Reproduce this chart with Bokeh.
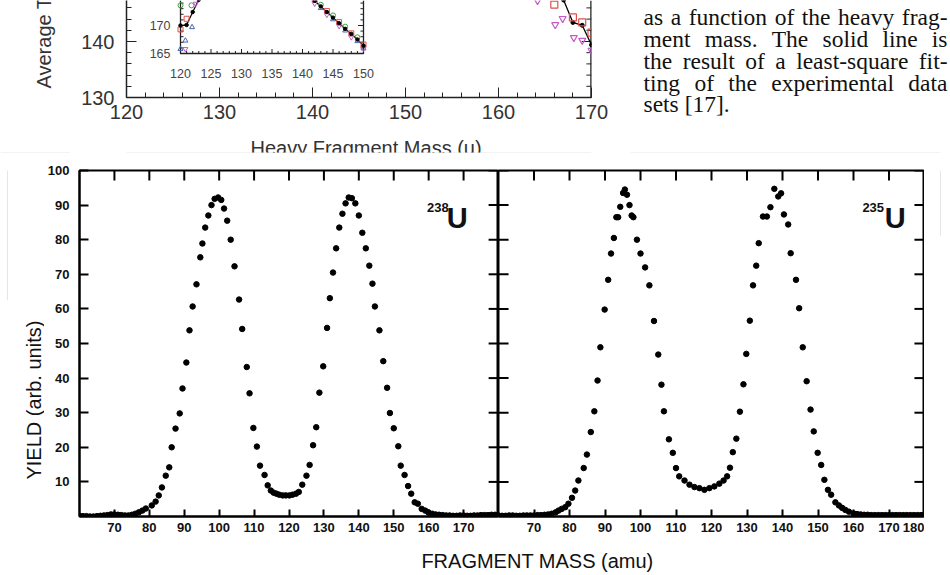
from bokeh.plotting import figure
from bokeh.models import Range1d, LinearAxis, FixedTicker, SingleIntervalTicker
from bokeh.layouts import row, column
from bokeh.core.properties import value
from bokeh.embed import file_html
from bokeh.resources import INLINE
from math import pi

# ------------------------------------------------------------------
# Fission fragment mass yields (arb. units)
# ------------------------------------------------------------------
U238_MASS = [60, 61, 62, 63, 64, 65, 66, 67, 68, 69, 70, 71, 72, 73, 74, 75, 76, 77, 78, 79,
             80.7, 81.8, 82.7, 83.6, 84.7, 85.7, 86.4, 87.5, 88.7, 89.5, 90.6, 91.5, 92.4,
             93.5, 94.6, 95.2, 96.0, 96.9, 97.8, 98.7, 99.7, 100.6, 101.4, 102.3, 103.3,
             104.4, 105.7, 106.6, 107.9, 108.7, 109.8, 110.8, 111.7, 113.0, 113.9, 114.8,
             115.6, 116.4, 117.2, 118.2, 119.1, 120.1, 121.0, 122.0, 122.8, 123.8, 125.0,
             125.9, 126.9, 127.8, 128.7, 129.8, 130.9, 131.7, 132.6, 133.5, 134.4, 135.3,
             136.2, 137.1, 138.0, 139.0, 140.0, 141.0, 142.0, 143.0, 143.9, 144.6, 145.9,
             147.0, 148.1, 148.9, 150.0, 151.3, 152.0, 153.1, 154.1, 155.0, 156.0, 156.9,
             158.0, 159.0, 159.9, 161, 162, 163, 164, 165, 166, 167, 168, 169, 170, 171,
             172, 173, 174, 175, 176, 177, 178, 179, 180]
U238_YIELD = [0.2, 0.1, 0.1, 0.0, 0.0, 0.1, 0.2, 0.3, 0.4, 0.6, 0.6, 0.5, 0.4, 0.3, 0.3, 0.5,
              0.8, 1.2, 1.7, 2.3,
              3.2, 4.3, 6.1, 8.4, 11.8, 14.2, 20.0, 25.4, 29.8, 37.0, 44.5, 53.8, 60.7,
              67.1, 74.9, 78.9, 83.5, 87.0, 90.0, 91.8, 92.2, 91.5, 89.0, 85.5, 80.0,
              72.3, 62.7, 54.2, 43.2, 35.6, 25.6, 20.2, 14.7, 12.0, 9.0, 7.5,
              6.9, 6.6, 6.3, 6.1, 6.1, 6.1, 6.3, 6.6, 7.1, 9.2, 11.8,
              14.9, 20.6, 25.8, 35.8, 43.4, 54.5, 63.1, 70.5, 77.5, 83.5, 87.5,
              90.5, 92.2, 92.0, 90.5, 87.0, 82.0, 77.5, 72.5, 67.3, 60.7, 53.8,
              44.9, 37.2, 29.9, 25.5, 20.3, 14.7, 12.0, 8.8, 6.6, 4.1, 3.7,
              2.2, 1.7, 1.2, 0.8, 0.6, 0.5, 0.4, 0.3, 0.3, 0.2, 0.2, 0.3, 0.3, 0.2,
              0.2, 0.3, 0.3, 0.4, 0.4, 0.4, 0.5, 0.5, 0.5]

U235_MASS = [60, 61, 62, 63, 64, 65, 66, 67, 68, 69, 70, 71, 72, 73, 74, 75,
             76.1, 76.9, 77.8, 78.8, 79.7, 80.7, 81.6, 82.5, 84.0, 84.9, 86.0, 87.0, 87.9,
             88.7, 89.9, 90.9, 91.7, 92.5, 93.2, 93.7, 94.3, 95.1, 95.6, 96.2, 96.9, 97.5,
             98.0, 99.0, 100.0, 101.3, 102.5, 103.8, 105.0, 105.9, 106.6, 108.0, 109.1,
             110.0, 110.9, 112.4, 113.8, 115.2, 116.6, 118.0, 119.4, 120.8, 122.2, 123.4,
             124.4, 125.2, 126.0, 127.0, 128.0, 129.0, 129.8, 130.8, 131.7, 132.6, 133.3,
             134.5, 135.6, 136.6, 137.7, 138.8, 139.6, 140.4, 141.6, 142.3, 143.8, 144.7,
             145.7, 146.8, 147.9, 148.8, 149.9, 150.9, 151.8, 152.8, 153.7, 154.9, 155.9,
             156.8, 157.7, 158.7, 160, 161, 162, 163, 164, 165, 166, 167, 168, 169, 170,
             171, 172, 173, 174, 175, 176, 177, 178, 179, 180]
U235_YIELD = [0.3, 0.2, 0.2, 0.3, 0.3, 0.2, 0.2, 0.3, 0.3, 0.3, 0.3, 0.4, 0.4, 0.5, 0.6, 0.8,
              1.2, 1.7, 2.2, 2.7, 3.7, 5.4, 7.5, 10.4, 14.0, 17.9, 24.4, 30.4, 39.3,
              48.9, 59.8, 68.4, 76.0, 80.5, 86.5, 86.5, 89.5, 93.5, 94.5, 93.0, 90.0, 87.0,
              86.5, 80.0, 76.0, 72.0, 66.8, 56.5, 46.8, 38.1, 30.4, 22.3, 18.4,
              14.0, 11.6, 10.4, 9.2, 8.5, 8.2, 7.7, 8.2, 8.7, 9.5, 10.4,
              11.6, 14.1, 18.6, 22.5, 30.3, 38.2, 47.0, 56.6, 66.8, 72.5, 79.0,
              86.7, 86.7, 89.4, 94.7, 92.5, 93.4, 87.3, 84.4, 76.1, 68.4, 60.2,
              48.9, 39.1, 30.9, 24.6, 18.4, 14.9, 10.6, 7.7, 6.3, 4.1, 3.2,
              2.5, 1.9, 1.4, 0.9, 0.7, 0.6, 0.5, 0.5, 0.4, 0.4, 0.4, 0.4, 0.4, 0.4,
              0.4, 0.4, 0.4, 0.4, 0.4, 0.4, 0.4, 0.4, 0.4, 0.5]

YIELD_TICKS = [10, 20, 30, 40, 50, 60, 70, 80, 90, 100]
MASS_TICKS_238 = [70, 80, 90, 100, 110, 120, 130, 140, 150, 160, 170]
MASS_TICKS_235 = [70, 80, 90, 100, 110, 120, 130, 140, 150, 160, 170, 180]

# ------------------------------------------------------------------
# Average total kinetic energy vs heavy fragment mass (upper figure)
# ------------------------------------------------------------------
TKE_FIT_MASS = [166.5, 167.0, 168.0, 169.0, 170.0]
TKE_FIT = [149.5, 147.4, 143.4, 142.9, 139.4]
TKE_SQ_MASS = [165.6, 166.0, 168.0, 169.0, 170.0]
TKE_SQ = [148.2, 146.6, 144.3, 143.4, 141.6]
TKE_TRI_MASS = [164.2, 166.1, 166.9, 168.1, 169.0, 170.0]
TKE_TRI = [147.3, 143.0, 144.1, 140.7, 140.2, 138.4]

# inset (zoom of the 120-150 region)
INSET_FIT_L_MASS = [120, 121, 122, 123]
INSET_FIT_L = [170.0, 170.1, 172.4, 174.6]
INSET_FIT_R_MASS = [142, 143, 144, 145, 146, 147, 148, 149, 150]
INSET_FIT_R = [174.4, 173.4, 172.4, 171.4, 170.4, 169.4, 168.5, 167.5, 166.4]
INSET_GREEN_MASS = [120.0, 121.8, 143.0, 145.0, 147.0, 149.0]
INSET_GREEN = [173.6, 173.6, 173.7, 171.8, 169.8, 167.9]
INSET_RED_MASS = [120.0, 121.0, 142.0, 144.0, 146.0, 148.0, 150.0]
INSET_RED = [169.3, 171.2, 174.6, 172.6, 170.6, 168.6, 166.6]
INSET_BLUE_MASS = [120.0, 120.8, 121.9, 143.0, 145.0, 147.0, 149.0, 150.0]
INSET_BLUE = [165.8, 167.3, 169.7, 173.1, 171.1, 169.1, 167.2, 165.9]
INSET_PURPLE_MASS = [120.8, 122.5, 142.0, 144.0, 146.0, 148.0, 150.0]
INSET_PURPLE = [165.8, 173.9, 173.9, 171.9, 169.9, 167.9, 165.9]
INSET_X_LABELS = [120, 125, 130, 135, 140, 145, 150]
INSET_Y_LABELS = [165, 170]

CAPTION = [
    ["as", "a", "function", "of", "the", "heavy", "frag-"],
    ["ment", "mass.", "The", "solid", "line", "is"],
    ["the", "result", "of", "a", "least-square", "fit-"],
    ["ting", "of", "the", "experimental", "data"],
    ["sets", "[17]."],
]
CAPTION_JUSTIFIED = [True, True, True, True, False]
CAPTION_BASELINE = [16, 38, 60, 82, 103]

SANS = "Liberation Sans"
SERIF = "Liberation Serif"
SERIF_PX = 23.5
COL_LEFT, COL_RIGHT = 643, 947

# advance widths of Liberation Serif glyphs, in 1/1000 em
SERIF_ADV = {" ": 250, "a": 444, "b": 500, "c": 444, "d": 500, "e": 444, "f": 333, "g": 500,
             "h": 500, "i": 278, "j": 278, "k": 500, "l": 278, "m": 778, "n": 500, "o": 500,
             "p": 500, "q": 500, "r": 333, "s": 389, "t": 278, "u": 500, "v": 500, "w": 722,
             "x": 500, "y": 500, "z": 444, "T": 611, "-": 333, ".": 250, "[": 333, "]": 333,
             "1": 500, "7": 500}


def serif_width(word):
    return sum(SERIF_ADV.get(ch, 500) for ch in word) * SERIF_PX / 1000.0


def word_starts(words, justified):
    widths = [serif_width(w) for w in words]
    if justified and len(words) > 1:
        gap = (COL_RIGHT - COL_LEFT - sum(widths)) / (len(words) - 1)
    else:
        gap = serif_width(" ")
    xs, x = [], COL_LEFT
    for w in widths:
        xs.append(x)
        x += w + gap
    return xs


def blank(width, height, x0, x1, y0, y1):
    p = figure(width=width, height=height, x_range=Range1d(x0, x1), y_range=Range1d(y0, y1),
               output_backend="svg", toolbar_location=None,
               x_axis_location=None, y_axis_location=None, min_border=0)
    p.grid.visible = False
    p.outline_line_color = None
    p.background_fill_color = "white"
    p.border_fill_color = "white"
    return p


FAINT = "#e6e6e6"

# ---------------- upper row ----------------
ylab_top = blank(70, 153, 0, 70, 153, 0)
ylab_top.text(x=[43], y=[88], text=["Average TKE (MeV)"], angle=pi / 2,
              text_font=value(SANS), text_font_size="20px", text_color="#333",
              text_align="left", text_baseline="middle")
ylab_top.line([0, 70], [152.5, 152.5], line_color=FAINT, line_width=1)

TKE_X0, TKE_X1, TKE_Y0 = 120, 170, 130
TKE_TOP = 130 + 97 / 5.6
tke = figure(width=560, height=132, x_range=Range1d(TKE_X0, TKE_X1),
             y_range=Range1d(TKE_Y0, TKE_TOP),
             output_backend="svg", toolbar_location=None,
             x_axis_location=None, y_axis_location=None,
             min_border_left=56, min_border_right=39, min_border_top=0, min_border_bottom=35)
tke.grid.visible = False
tke.outline_line_color = None
tke.background_fill_color = "white"
tke.border_fill_color = "white"
for loc in ("below", "left"):
    ax = LinearAxis(ticker=SingleIntervalTicker(interval=10, num_minor_ticks=5))
    ax.axis_line_color = "#222"
    ax.axis_line_width = 1.5
    ax.major_tick_line_color = "#222"
    ax.minor_tick_line_color = "#222"
    ax.major_tick_in = 10
    ax.major_tick_out = 0
    ax.minor_tick_in = 5
    ax.minor_tick_out = 0
    ax.major_label_text_font = SANS
    ax.major_label_text_font_size = "20px"
    ax.major_label_text_color = "#333"
    ax.major_label_standoff = 12 if loc == "left" else 7
    tke.add_layout(ax, loc)

# right-hand frame edge with inward ticks every 2 units
tke.line([TKE_X1, TKE_X1], [TKE_Y0, TKE_TOP], line_color="#222", line_width=2.5)
rt = list(range(TKE_Y0, int(TKE_TOP) + 1, 2))
tke.segment(x0=[TKE_X1] * len(rt), y0=rt,
            x1=[TKE_X1 - (1.05 if v % 10 == 0 else 0.55) for v in rt], y1=rt,
            line_color="#222", line_width=1)

tke.line(TKE_FIT_MASS, TKE_FIT, line_color="black", line_width=1.3)
tke.scatter(TKE_FIT_MASS, TKE_FIT, marker="circle", size=4, color="black")
tke.scatter(TKE_SQ_MASS, TKE_SQ, marker="square", size=7, fill_color=None,
            line_color="#e0504a", line_width=1.2)
tke.scatter(TKE_TRI_MASS, TKE_TRI, marker="inverted_triangle", size=7, fill_color=None,
            line_color="#c45ac8", line_width=1.2)

# inset axes share the canvas through extra ranges
INSET_X0, INSET_X1, INSET_Y0 = 120, 150, 165
INSET_TOP = 165 + 53 / 5.6
tke.extra_x_ranges = {"ix": Range1d(120 - 54 / 6.1, 150 + 228 / 6.1)}
tke.extra_y_ranges = {"iy": Range1d(165 - 44 / 5.6, INSET_TOP)}
ins = dict(x_range_name="ix", y_range_name="iy")
tke.quad(left=INSET_X0, right=INSET_X1, bottom=INSET_Y0, top=INSET_TOP,
         fill_color="white", line_color=None, **ins)
tke.line([INSET_X0, INSET_X0, INSET_X1, INSET_X1], [INSET_TOP, INSET_Y0, INSET_Y0, INSET_TOP],
         line_color="#222", line_width=1.3, **ins)
bx = list(range(INSET_X0, INSET_X1 + 1))
tke.segment(x0=bx, y0=[INSET_Y0] * len(bx), x1=bx,
            y1=[INSET_Y0 + (0.8 if m % 5 == 0 else 0.45) for m in bx],
            line_color="#222", line_width=1, **ins)
ly = list(range(INSET_Y0, 175))
tke.segment(x0=[INSET_X0] * len(ly), y0=ly,
            x1=[INSET_X0 + (0.9 if v % 5 == 0 else 0.5) for v in ly], y1=ly,
            line_color="#222", line_width=1, **ins)
tke.segment(x0=[INSET_X1] * len(ly), y0=ly,
            x1=[INSET_X1 - (0.9 if v % 5 == 0 else 0.5) for v in ly], y1=ly,
            line_color="#222", line_width=1, **ins)
tke.text(x=INSET_X_LABELS, y=[INSET_Y0 - 20 / 5.6] * len(INSET_X_LABELS),
         text=[str(m) for m in INSET_X_LABELS], text_font=value(SANS),
         text_font_size="12.5px", text_color="#444", text_align="center",
         text_baseline="middle", **ins)
tke.text(x=[INSET_X0 - 10 / 6.1] * len(INSET_Y_LABELS), y=INSET_Y_LABELS,
         text=[str(v) for v in INSET_Y_LABELS], text_font=value(SANS),
         text_font_size="12.5px", text_color="#444", text_align="right",
         text_baseline="middle", **ins)
tke.line(INSET_FIT_L_MASS, INSET_FIT_L, line_color="black", line_width=1.2, **ins)
tke.line(INSET_FIT_R_MASS, INSET_FIT_R, line_color="black", line_width=1.2, **ins)
tke.scatter(INSET_GREEN_MASS, INSET_GREEN, marker="circle", size=5, fill_color=None,
            line_color="#3fa33f", **ins)
tke.scatter(INSET_RED_MASS, INSET_RED, marker="square", size=5, fill_color=None,
            line_color="#e0504a", **ins)
tke.scatter(INSET_BLUE_MASS, INSET_BLUE, marker="triangle", size=5, fill_color=None,
            line_color="#4a64b4", **ins)
tke.scatter(INSET_PURPLE_MASS, INSET_PURPLE, marker="inverted_triangle", size=5,
            fill_color=None, line_color="#c45ac8", **ins)
tke.scatter(INSET_FIT_L_MASS + INSET_FIT_R_MASS, INSET_FIT_L + INSET_FIT_R, marker="circle",
            size=3.5, color="black", **ins)

xlab_top = blank(560, 21, 70, 630, 153, 132)
xlab_top.text(x=[358.5], y=[136], text=["Heavy Fragment Mass (u)"], text_font=value(SANS),
              text_font_size="20px", text_color="#333", text_align="center",
              text_baseline="top")
xlab_top.line([70, 630], [152.5, 152.5], line_color=FAINT, line_width=1)

caption = blank(320, 153, 630, 950, 153, 0)
for words, just, yb in zip(CAPTION, CAPTION_JUSTIFIED, CAPTION_BASELINE):
    xs = word_starts(words, just)
    caption.text(x=xs, y=[yb] * len(xs), text=words, text_font=value(SERIF),
                 text_font_size=f"{SERIF_PX}px", text_color="#111", text_align="left",
                 text_baseline="alphabetic")
caption.line([630, 940], [152.5, 152.5], line_color=FAINT, line_width=1)

top_row = row(ylab_top, column(tke, xlab_top), caption)

# ---------------- yield panels ----------------
PANEL_H = 392
PX_PER_UNIT_Y = 3.46
PX_PER_AMU = 3.53


def style_axis(ax, ticks, tick_in):
    ax.ticker = FixedTicker(ticks=ticks, minor_ticks=[])
    ax.axis_line_color = "black"
    ax.axis_line_width = 2
    ax.major_tick_line_color = "black"
    ax.major_tick_line_width = 2
    ax.major_tick_in = tick_in
    ax.major_tick_out = 0
    ax.minor_tick_line_color = None
    ax.major_label_text_font = SANS
    ax.major_label_text_font_style = "bold"
    ax.major_label_text_font_size = "13px"
    ax.major_label_text_color = "#111"
    return ax


def edge_ticks(p, xticks, left_edge, right_edge):
    """inward tick marks on the frame edges that carry no labels"""
    top_len = 10 / PX_PER_UNIT_Y
    side_len = 10 / PX_PER_AMU
    p.segment(x0=xticks, y0=[100] * len(xticks), x1=xticks, y1=[100 - top_len] * len(xticks),
              line_color="black", line_width=2)
    n = len(YIELD_TICKS)
    if left_edge:
        p.segment(x0=[60] * n, y0=YIELD_TICKS, x1=[60 + side_len] * n, y1=YIELD_TICKS,
                  line_color="black", line_width=2)
    if right_edge:
        p.segment(x0=[180] * n, y0=YIELD_TICKS, x1=[180 - side_len] * n, y1=YIELD_TICKS,
                  line_color="black", line_width=2)


def yield_panel(width, border_left, mass, yld, xticks):
    p = figure(width=width, height=PANEL_H, x_range=Range1d(60, 180), y_range=Range1d(0, 100),
               output_backend="svg", toolbar_location=None,
               x_axis_location=None, y_axis_location=None,
               min_border_left=border_left, min_border_right=0,
               min_border_top=17, min_border_bottom=29)
    p.grid.visible = False
    p.outline_line_color = "black"
    p.outline_line_width = 2
    p.background_fill_color = "white"
    p.border_fill_color = "white"
    bottom = style_axis(LinearAxis(), xticks, 7)
    bottom.major_label_standoff = 6
    p.add_layout(bottom, "below")
    p.scatter(mass, yld, marker="circle", size=5.5, color="black")
    return p


def nucleus_label(p, x_digits, x_letter, digits):
    p.text(x=[x_digits], y=[89.3], text=[digits], text_font=value(SANS),
           text_font_style="bold", text_font_size="13px", text_color="#111",
           text_align="left", text_baseline="alphabetic")
    p.text(x=[x_letter], y=[86.2], text=["U"], text_font=value(SANS),
           text_font_style="bold", text_font_size="29px", text_color="#111",
           text_align="left", text_baseline="alphabetic")


left = yield_panel(454, 31, U238_MASS, U238_YIELD, MASS_TICKS_238)
yl = style_axis(LinearAxis(), YIELD_TICKS, 9)
yl.major_label_standoff = 10
left.add_layout(yl, "left")
edge_ticks(left, MASS_TICKS_238, False, True)
nucleus_label(left, 159.5, 165.2, "238")

right = yield_panel(426, 0, U235_MASS, U235_YIELD, MASS_TICKS_235)
edge_ticks(right, MASS_TICKS_235[:-1], True, True)
nucleus_label(right, 162.5, 168.8, "235")

ylab_bottom = blank(44, PANEL_H, 0, 44, PANEL_H, 0)
ylab_bottom.text(x=[33], y=[257], text=["YIELD  (arb. units)"], angle=pi / 2,
                 text_font=value(SANS), text_font_size="20px", text_color="#111",
                 text_align="center", text_baseline="middle")
ylab_bottom.line([7, 7], [0, 147], line_color=FAINT, line_width=1)

margin = blank(26, PANEL_H, 924, 950, PANEL_H, 0)
margin.line([940, 940], [0, 74], line_color=FAINT, line_width=1)

panels = row(ylab_bottom, left, right, margin)

xlab_bottom = blank(950, 30, 0, 950, 30, 0)
xlab_bottom.text(x=[537], y=[15], text=["FRAGMENT MASS (amu)"], text_font=value(SANS),
                 text_font_size="20px", text_color="#111", text_align="center",
                 text_baseline="middle")

page = column(top_row, panels, xlab_bottom)

open("out.html", "w").write(file_html(page, INLINE))
